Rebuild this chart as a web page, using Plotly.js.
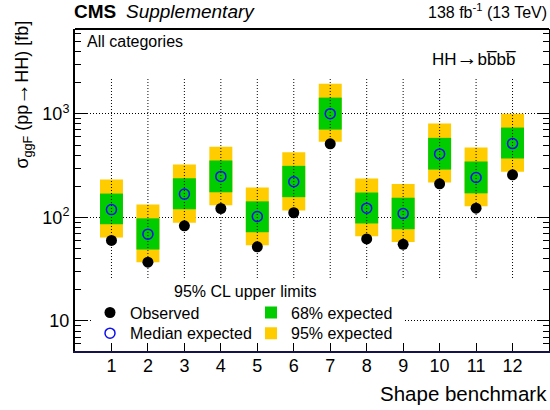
<!DOCTYPE html>
<html>
<head>
<meta charset="utf-8">
<script src="https://cdn.plot.ly/plotly-3.0.1.min.js"></script>
<style>html,body{margin:0;padding:0;background:#fff;}#chart{width:550px;height:410px;}</style>
</head>
<body>
<div id="chart"></div>
<script>
// Shape benchmarks
const categories = [1, 2, 3, 4, 5, 6, 7, 8, 9, 10, 11, 12];
const tickLabels = ['1','2','3','4','5','6','7','8','9','10','11','12'];
// 95% CL upper limits on sigma_ggF(pp->HH) [fb]
const observed  = [60, 37, 83, 122, 52, 111, 514, 62, 55, 211, 123, 258];
const expMedian = [119, 69, 168, 249, 102, 221, 1005, 123, 109, 411, 243, 517];
const exp68Lo   = [86, 49, 120, 175, 72, 157, 706, 87.5, 77, 290, 171, 371];
const exp68Hi   = [170, 98, 239, 355, 143, 315, 1436, 174, 155, 587, 347, 738];
const exp95Lo   = [64, 37, 89, 131, 54, 117, 537, 66, 58, 218, 128, 276];
const exp95Hi   = [232, 133, 324, 481, 195, 426, 1960, 238, 210, 806, 473, 1005];
const yTickVals = [10, 100, 1000];
const yTickText = ['10', '10<sup>2</sup>', '10<sup>3</sup>'];

const FONT = 'Liberation Sans, Arial, Helvetica, sans-serif';
const GREEN = '#00CC00', YELLOW = '#FFCC00';
const BOXW = 0.63;

// minor log ticks
const minorVals = [];
[1, 10, 100, 1000].forEach(d => { for (let k = 2; k <= 9; k++) minorVals.push(k * d); });

// dotted guide lines per benchmark
const guideX = [], guideY = [];
categories.forEach(c => { guideX.push(c, c, null); guideY.push(26, 2240, null); });

const traces = [
  { type: 'bar', name: '95% expected', x: categories, base: exp95Lo,
    y: exp95Hi.map((h, i) => h - exp95Lo[i]), width: BOXW,
    marker: { color: YELLOW, line: { width: 0 } }, legend: 'legend4', hoverinfo: 'skip' },
  { type: 'bar', name: '68% expected', x: categories, base: exp68Lo,
    y: exp68Hi.map((h, i) => h - exp68Lo[i]), width: BOXW,
    marker: { color: GREEN, line: { width: 0 } }, legend: 'legend3', hoverinfo: 'skip' },
  { type: 'scatter', mode: 'lines', x: guideX, y: guideY, showlegend: false,
    line: { color: 'black', width: 1, dash: '1px,2px' }, hoverinfo: 'skip' },
  { type: 'scatter', mode: 'markers', name: 'Median expected', x: categories, y: expMedian,
    marker: { symbol: 'circle-open', size: 10, color: '#1010F0', line: { width: 1.5, color: '#1010F0' } },
    legend: 'legend2', hoverinfo: 'skip' },
  { type: 'scatter', mode: 'markers', name: 'Observed', x: categories, y: observed,
    marker: { symbol: 'circle', size: 11, color: 'black' }, legend: 'legend', hoverinfo: 'skip' }
];

function py(Y) { return (351 - Y) / 321.5; }
function px(X) { return (X - 75) / 474; }

function leg(xPix, rowCenterPix) {
  return {
    x: px(xPix), y: py(rowCenterPix - 17), xanchor: 'left', yanchor: 'top',
    bgcolor: 'rgba(0,0,0,0)', borderwidth: 0, tracegroupgap: 0,
    font: { size: 16, family: FONT }
  };
}

const layout = {
  width: 550, height: 410,
  margin: { l: 75, r: 1, t: 29, b: 59 },
  paper_bgcolor: 'white', plot_bgcolor: 'white',
  font: { family: FONT, size: 16, color: 'black' },
  barmode: 'overlay',
  showlegend: true,
  xaxis: {
    range: [0, 13], tickmode: 'array', tickvals: categories, ticktext: tickLabels,
    ticks: 'inside', ticklen: 8, tickwidth: 1, tickcolor: 'black',
    showline: true, linewidth: 2, linecolor: '#14144a', mirror: false,
    showgrid: false, zeroline: false, tickfont: { size: 18, family: FONT },
    ticklabelstandoff: -3, fixedrange: true
  },
  yaxis: {
    type: 'log', range: [Math.log10(5.13), 3.82],
    tickmode: 'array', tickvals: yTickVals, ticktext: yTickText,
    ticks: 'inside', ticklen: 12, tickwidth: 1, tickcolor: 'black',
    minor: { tickmode: 'array', tickvals: minorVals, ticks: 'inside', ticklen: 6, tickwidth: 1, tickcolor: 'black', showgrid: false },
    showline: true, linewidth: 2, linecolor: 'black', mirror: 'ticks',
    showgrid: true, gridcolor: 'black', gridwidth: 1, griddash: '1px,2px',
    zeroline: false, tickfont: { size: 18, family: FONT }, fixedrange: true
  },
  legend: leg(90, 312.7),
  legend2: leg(90, 333.3),
  legend3: leg(251, 312.7),
  legend4: leg(251, 333.3),
  shapes: [
    { type: 'rect', xref: 'paper', yref: 'paper', x0: px(92), x1: px(403), y0: py(336), y1: py(279),
      fillcolor: 'white', line: { width: 0 }, layer: 'above' },
    { type: 'line', xref: 'paper', yref: 'paper', x0: 0, x1: 1, y0: 1, y1: 1,
      line: { color: 'black', width: 2 } }
  ],
  annotations: [
    { text: '<b>CMS</b>', xref: 'paper', yref: 'paper', x: px(72), y: py(12), xanchor: 'left', yanchor: 'middle',
      showarrow: false, font: { size: 19, family: FONT } },
    { text: '<i>Supplementary</i>', xref: 'paper', yref: 'paper', x: px(124), y: py(12), xanchor: 'left', yanchor: 'middle',
      showarrow: false, font: { size: 19, family: FONT } },
    { text: '138 fb<sup>-1</sup> (13 TeV)', xref: 'paper', yref: 'paper', x: 1, y: py(12), xanchor: 'right', yanchor: 'middle',
      showarrow: false, font: { size: 16, family: FONT } },
    { text: 'All categories', xref: 'paper', yref: 'paper', x: px(85), y: py(42), xanchor: 'left', yanchor: 'middle',
      showarrow: false, font: { size: 16, family: FONT } },
    { text: 'HH<span style="font-size:21px">\u2192</span>bb\u0305bb\u0305', xref: 'paper', yref: 'paper', x: px(518), y: py(58), xanchor: 'right', yanchor: 'middle',
      showarrow: false, font: { size: 17, family: FONT } },
    { text: '\u03C3<sub>ggF</sub> (pp<span style="font-size:22px">\u2192</span>HH) [fb]', xref: 'paper', yref: 'paper', x: px(22), y: py(95), xanchor: 'center', yanchor: 'middle',
      textangle: -90, showarrow: false, font: { size: 18, family: FONT } },
    { text: 'Shape benchmark', xref: 'paper', yref: 'paper', x: 1, y: py(393), xanchor: 'right', yanchor: 'middle',
      showarrow: false, font: { size: 20.5, family: FONT } },
    { text: '95% CL upper limits', xref: 'paper', yref: 'paper', x: px(245), y: py(292), xanchor: 'center', yanchor: 'middle',
      showarrow: false, font: { size: 16, family: FONT } }
  ]
};

Plotly.newPlot('chart', traces, layout, { displayModeBar: false, staticPlot: true });
</script>
</body>
</html>
